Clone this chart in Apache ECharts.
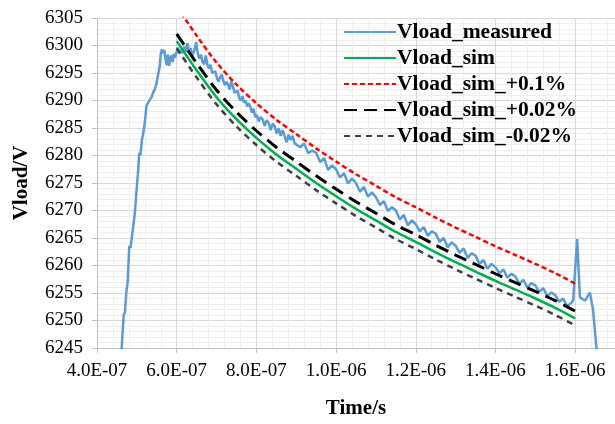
<!DOCTYPE html>
<html>
<head>
<meta charset="utf-8">
<script src="https://cdn.jsdelivr.net/npm/echarts@6/dist/echarts.min.js"></script>
<style>html,body{margin:0;padding:0;background:#fff}#c{width:615px;height:424px}</style>
</head>
<body>
<div id="c"></div>
<script>
// time in units of 1e-7 s
const measTime = [4.55,4.62,4.67,4.70,4.74,4.77,4.81,4.84,4.87,4.91,4.95,4.99,5.03,5.06,5.09,5.13,5.16,5.20,5.24,5.28,5.33,5.37,5.41,5.45,5.49,5.53,5.57,5.60,5.63,5.66,5.69,5.72,5.75,5.78,5.81,5.84,5.87,5.90,5.93,5.96,5.99,
6.03,6.07,6.11,6.15,6.19,6.23,6.27,6.31,6.35,6.39,6.44,6.49,6.53,6.57,6.61,6.65,6.69,6.73,6.77,6.81,6.85,6.89,6.93,6.97,
7.01,7.05,7.09,7.13,7.17,7.21,7.25,7.29,7.33,7.37,7.41,7.45,7.49,7.53,7.57,7.61,7.65,7.69,7.73,7.77,7.81,7.85,7.89,7.93,7.97,
8.01,8.06,8.11,8.16,8.21,8.26,8.31,8.36,8.41,8.46,8.51,8.56,8.61,8.66,8.71,8.76,8.81,8.86,8.91,8.96,
9.0,9.1,9.2,9.3,9.4,9.5,9.6,9.7,9.8,9.9,10.0,10.1,10.2,10.3,10.4,10.5,10.6,10.7,10.8,10.9,
11.0,11.1,11.2,11.3,11.4,11.5,11.6,11.7,11.8,11.9,12.0,12.1,12.2,12.3,12.4,12.5,12.6,12.7,12.8,12.9,
13.0,13.1,13.2,13.3,13.4,13.5,13.6,13.7,13.8,13.9,14.0,14.1,14.2,14.3,14.4,14.5,14.6,14.7,14.8,14.9,
15.0,15.1,15.2,15.3,15.4,15.5,15.6,15.7,15.8,15.9,15.95,16.05,16.12,16.25,16.37,16.45,16.53,16.56];
const measV = [6240,6245,6251,6251.5,6255.4,6257,6263.6,6263.2,6264.8,6264.5,6269.5,6273.5,6277,6280.5,6280,6283,6284,6286,6289,6288.8,6290.2,6290.6,6291.5,6292,6293,6294.6,6296,6298.5,6299.3,6298.6,6299.2,6297.5,6296.4,6298.4,6296.3,6297.6,6298.2,6297.0,6298.5,6297.8,6298.6,
6299.6,6298.5,6299.2,6298.6,6299.8,6298.8,6300.4,6299,6299.5,6298.2,6299,6300.6,6298.5,6297.6,6298.3,6297,6296.6,6298.2,6296.5,6295.8,6296.5,6295.0,6294.7,6295.3,
6294.1,6293.4,6294.2,6294.7,6293.6,6292.8,6293.4,6292.9,6292.0,6293.5,6292.6,6291.4,6291.2,6291.8,6290.4,6290.0,6290.8,6289.6,6290.0,6288.9,6289.5,6288.8,6287.8,6288.5,6287.0,
6287.4,6286.2,6287.0,6286.5,6285.4,6286.4,6285.9,6284.6,6285.8,6285.3,6284.0,6284.9,6283.6,6284.6,6283.5,6282.4,6283.8,6282.8,6283.6,6282.2,
6282.3,6281.5,6282.2,6280.4,6280.9,6280.5,6278.8,6279.5,6277.4,6278.2,6277.5,6276.0,6276.8,6274.9,6275.8,6275.0,6273.4,6274.3,6272.5,6273.3,
6272.4,6271.0,6271.7,6269.9,6270.6,6270.0,6268.4,6269.2,6267.3,6268.2,6267.5,6266.2,6267.0,6265.4,6266.2,6265.8,6264.3,6265.0,6263.3,6264.2,
6263.6,6262.3,6263.1,6261.4,6262.2,6261.8,6260.3,6261.0,6259.4,6260.3,6259.7,6258.6,6259.3,6257.8,6258.5,6258.0,6256.7,6257.4,6256.0,6256.8,
6256.4,6255.2,6255.9,6254.4,6255.1,6254.6,6253.4,6254.0,6252.6,6253.2,6253.6,6264.8,6254.2,6253.6,6255.1,6251.9,6245.4,6243];

const simTime = [6.0,6.5,7.0,7.5,8.0,8.5,9.0,9.5,10.0,10.5,11.0,11.5,12.0,12.5,13.0,13.5,14.0,14.5,15.0,15.5,16.0];
const simV    = [6300.8,6295.5,6290.6,6286.6,6283.2,6280.2,6277.6,6275.0,6272.6,6270.3,6268.2,6266.1,6264.3,6262.4,6260.6,6258.9,6257.2,6255.6,6254.0,6252.3,6250.4];
const simP01  = [6307.1,6301.8,6296.9,6292.9,6289.5,6286.5,6283.9,6281.3,6278.9,6276.6,6274.5,6272.4,6270.6,6268.7,6266.9,6265.2,6263.5,6261.9,6260.3,6258.6,6256.7];
const simP002 = [6302.1,6296.8,6291.9,6287.9,6284.5,6281.5,6278.9,6276.3,6273.9,6271.6,6269.5,6267.4,6265.6,6263.7,6261.9,6260.2,6258.5,6256.9,6255.3,6253.6,6251.7];
const simM002 = [6299.5,6294.2,6289.3,6285.3,6281.9,6278.9,6276.3,6273.7,6271.3,6269.0,6266.9,6264.8,6263.0,6261.1,6259.3,6257.6,6255.9,6254.3,6252.7,6251.0,6249.1];

const seriesNames = ['Vload_measured','Vload_sim','Vload_sim_+0.1%','Vload_sim_+0.02%','Vload_sim_-0.02%'];

const pair = (t, v) => t.map((x, i) => [x, v[i]]);
const serif = 'Liberation Serif';

const chart = echarts.init(document.getElementById('c'), null, {renderer: 'canvas'});
chart.setOption({
  animation: false,
  backgroundColor: '#fff',
  grid: {left: 97, top: 18, right: -2, bottom: 65, containLabel: false},
  legend: {
    orient: 'vertical', left: 338, top: 16,
    itemWidth: 52, itemHeight: 12, itemGap: 4,
    itemStyle: {opacity: 0},
    textStyle: {fontFamily: serif, fontWeight: 'bold', fontSize: 21.5, color: '#000', lineHeight: 21, padding: [0,0,0,-4]},
    data: seriesNames
  },
  xAxis: {
    type: 'value', min: 4, max: 17, interval: 2,
    name: 'Time/s', nameLocation: 'middle', nameGap: 50,
    nameTextStyle: {fontFamily: serif, fontWeight: 'bold', fontSize: 21, color: '#000'},
    axisLine: {show: true, lineStyle: {color: '#bfbfbf', width: 1}},
    axisTick: {show: true, length: 5, lineStyle: {color: '#bfbfbf'}},
    axisLabel: {fontFamily: serif, fontSize: 19, color: '#000', margin: 14, showMaxLabel: false,
      formatter: v => (v * 1e-7).toExponential(1).toUpperCase().replace(/E([+-])(\d)$/, 'E$10$2')},
    splitLine: {show: true, lineStyle: {color: '#d9d9d9', width: 1}},
    minorTick: {show: false, splitNumber: 5},
    minorSplitLine: {show: true, lineStyle: {color: '#eeeeee', width: 1}}
  },
  yAxis: {
    type: 'value', min: 6245, max: 6305, interval: 5,
    name: 'Vload/V', nameLocation: 'middle', nameGap: 65,
    nameTextStyle: {fontFamily: serif, fontWeight: 'bold', fontSize: 21, color: '#000'},
    axisLine: {show: true, lineStyle: {color: '#bfbfbf', width: 1}},
    axisTick: {show: true, length: 5, lineStyle: {color: '#bfbfbf'}},
    axisLabel: {fontFamily: serif, fontSize: 19, color: '#000', margin: 14, formatter: v => String(v)},
    splitLine: {show: true, lineStyle: {color: '#d9d9d9', width: 1}},
    minorTick: {show: false, splitNumber: 5},
    minorSplitLine: {show: true, lineStyle: {color: '#eeeeee', width: 1}}
  },
  series: [
    {name: seriesNames[0], type: 'line', data: pair(measTime, measV), showSymbol: false, symbol: 'none', clip: true,
     lineStyle: {color: '#5b9bd5', width: 2.5}, itemStyle: {color: '#5b9bd5'}, z: 2},
    {name: seriesNames[1], type: 'line', data: pair(simTime, simV), symbol: 'none', smooth: 0.3, clip: true,
     lineStyle: {color: '#00b050', width: 2.5}, itemStyle: {color: '#00b050'}, z: 3},
    {name: seriesNames[2], type: 'line', data: pair(simTime, simP01), symbol: 'none', smooth: 0.3, clip: true,
     lineStyle: {color: '#ff0000', width: 2.5, type: [5, 3]}, itemStyle: {color: '#ff0000'}, z: 3},
    {name: seriesNames[3], type: 'line', data: pair(simTime, simP002), symbol: 'none', smooth: 0.3, clip: true,
     lineStyle: {color: '#000000', width: 3, type: [13, 7]}, itemStyle: {color: '#000000'}, z: 3},
    {name: seriesNames[4], type: 'line', data: pair(simTime, simM002), symbol: 'none', smooth: 0.3, clip: true,
     lineStyle: {color: '#404040', width: 2.5, type: [6, 5]}, itemStyle: {color: '#404040'}, z: 3}
  ]
});
</script>
</body>
</html>
